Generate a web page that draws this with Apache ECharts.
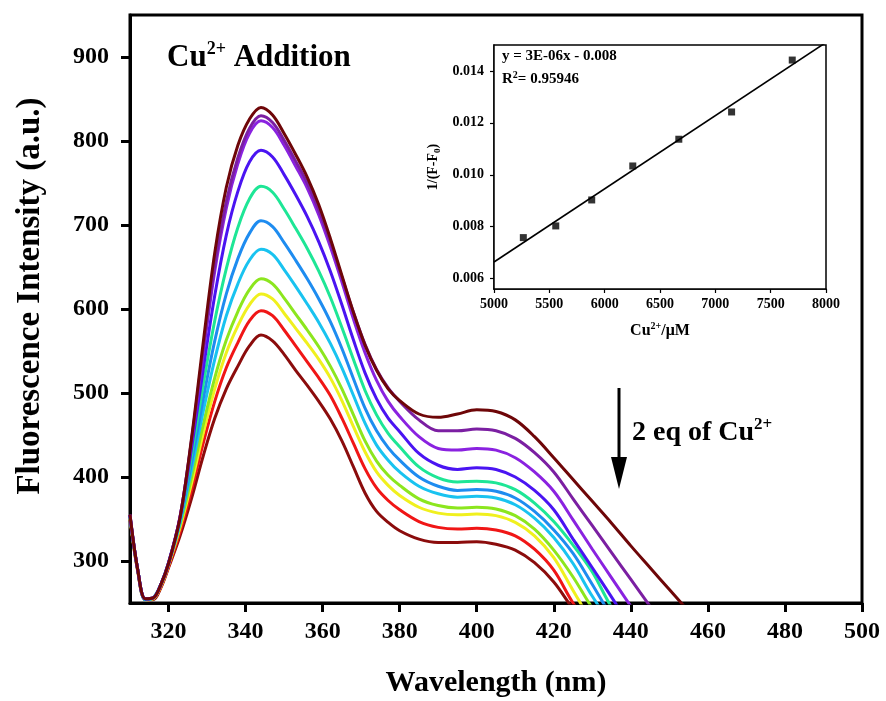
<!DOCTYPE html>
<html>
<head>
<meta charset="utf-8">
<style>
  html, body { margin: 0; padding: 0; background: #fff; }
  #chart { width: 886px; height: 701px; }
</style>
<script src="https://cdn.jsdelivr.net/npm/echarts@6/dist/echarts.min.js"></script>
</head>
<body>
<div id="chart"></div>
<script>
// Emission spectra recorded during Cu2+ titration (wavelength in nm)
const wavelengths = [310,312,314,316,318,320,323,326,329,332,335,338,341,344,347,350,353,356,359,362,365,368,371,374,377,380,385,390,395,400,405,410,415,420,425,430,435,440,445,450,455];

// Fluorescence intensity (a.u.), from the free probe down to 2 eq of Cu2+
const spectrum00 = [355,290,255,256,272,297,352,447,560,667,745,795,826,840,831,809,784,757,724,684,640,596,557,527,505,491,475,471,475,480,478,468,448,423,397,371,345,318,292,266,240];
const spectrum01 = [355,290,255,256,272,297,353,445,552,652,728,780,815,830,822,801,776,750,718,680,638,596,558,528,506,490,468,455,455,457,455,446,429,406,374,342,310,278,246,214,182];
const spectrum02 = [355,290,255,256,272,297,353,443,547,645,720,773,809,824,816,795,770,744,712,674,632,588,548,515,490,472,448,434,432,434,432,423,406,383,349,314,280,246,211,177,150];
const spectrum03 = [354,290,255,256,272,298,352,435,528,616,688,740,775,789,781,760,736,710,680,645,605,563,524,493,470,454,428,414,409,411,409,400,384,361,326,292,257,222,195,175,160];
const spectrum04 = [354,290,255,256,272,298,350,427,510,586,648,697,731,746,739,719,696,672,645,614,578,540,503,474,452,436,412,399,394,395,393,385,369,347,319,287,245,215,190,175,160];
const spectrum05 = [353,290,254,256,272,297,348,418,493,562,618,660,690,705,698,679,658,636,612,585,553,517,482,455,435,420,400,389,384,385,383,375,359,337,309,272,235,210,190,175,160];
const spectrum06 = [353,290,254,256,272,297,346,410,478,540,592,630,658,671,665,647,627,606,584,559,530,497,464,438,420,406,389,380,376,377,375,367,351,328,297,258,225,200,180,170,160];
const spectrum07 = [352,289,254,256,271,296,343,400,462,518,563,597,623,636,630,613,594,575,555,532,505,474,443,419,402,390,374,366,363,364,362,354,338,313,281,244,215,195,180,170,160];
const spectrum08 = [352,289,254,255,270,295,340,393,452,505,548,580,605,618,612,595,577,559,540,518,491,460,430,406,390,378,364,357,355,356,354,346,330,304,265,228,205,190,175,165,155];
const spectrum09 = [352,289,254,255,269,293,335,385,440,490,530,560,586,598,592,575,556,537,518,497,470,440,410,387,372,361,347,340,338,339,337,330,314,289,250,220,200,185,170,160,150];
const spectrum10 = [350,288,254,254,268,292,330,375,425,470,505,532,556,569,562,546,527,509,490,469,443,412,381,359,346,336,326,322,322,323,320,313,298,275,243,215,195,180,170,160,150];

const spectra = [spectrum00, spectrum01, spectrum02, spectrum03, spectrum04, spectrum05,
                 spectrum06, spectrum07, spectrum08, spectrum09, spectrum10];
const spectraColors = ['#6e0608', '#7b1fa2', '#8a22e0', '#4a14f2', '#1ee696', '#1e8cf0',
                       '#19c3f0', '#8ce61e', '#f0f01e', '#f01616', '#8b0c0c'];

const wavelengthTicks = [320, 340, 360, 380, 400, 420, 440, 460, 480, 500];
const intensityTicks = [300, 400, 500, 600, 700, 800, 900];

// Inset: 1/(F-F0) against Cu2+ concentration
const cuConcentration = [5265, 5558, 5883, 6254, 6670, 7147, 7695];
const inverseDeltaF = [0.00758, 0.00803, 0.00903, 0.01034, 0.01137, 0.01242, 0.01442];
const insetXTicks = [5000, 5500, 6000, 6500, 7000, 7500, 8000];
const insetYTicks = [0.006, 0.008, 0.010, 0.012, 0.014];

// Least-squares line through the inset points
function linearFit(xs, ys) {
  const n = xs.length;
  const mx = xs.reduce((a, b) => a + b, 0) / n;
  const my = ys.reduce((a, b) => a + b, 0) / n;
  let sxy = 0, sxx = 0;
  for (let i = 0; i < n; i++) {
    sxy += (xs[i] - mx) * (ys[i] - my);
    sxx += (xs[i] - mx) * (xs[i] - mx);
  }
  const slope = sxy / sxx;
  return { slope, intercept: my - slope * mx };
}
const fit = linearFit(cuConcentration, inverseDeltaF);
const fitLine = [5000, 8000].map(x => [x, fit.slope * x + fit.intercept]);

const FONT = '"Liberation Serif", "Times New Roman", serif';

const chart = echarts.init(document.getElementById('chart'), null, { renderer: 'canvas' });

const spectraSeries = spectra.map((vals, i) => ({
  type: 'line',
  xAxisIndex: 0,
  yAxisIndex: 0,
  data: wavelengths.map((w, j) => [w, vals[j]]),
  smooth: 0.35,
  showSymbol: false,
  clip: true,
  lineStyle: { color: spectraColors[i], width: 3 },
  itemStyle: { color: spectraColors[i] },
  z: 3 + (spectra.length - i)
}));

chart.setOption({
  backgroundColor: '#ffffff',
  animation: false,
  grid: [
    { left: 130, top: 15, width: 732, height: 588, show: true, borderColor: '#000', borderWidth: 3,
      backgroundColor: '#fff', containLabel: false, outerBoundsMode: 'none' },
    { left: 494, top: 45, width: 332, height: 244, show: true, borderColor: '#000', borderWidth: 1.5,
      backgroundColor: '#fff', z: 10, containLabel: false, outerBoundsMode: 'none' }
  ],
  xAxis: [
    {
      type: 'value', gridIndex: 0, min: 310, max: 500,
      name: 'Wavelength (nm)', nameLocation: 'middle', nameGap: 65,
      nameTextStyle: { fontFamily: FONT, fontWeight: 'bold', fontSize: 30, color: '#000' },
      axisLine: { show: true, onZero: false, lineStyle: { color: '#000', width: 3 } },
      axisTick: { show: true, inside: false, length: 9, lineStyle: { color: '#000', width: 3 }, customValues: wavelengthTicks },
      axisLabel: { show: true, margin: 17, fontFamily: FONT, fontWeight: 'bold', fontSize: 24, color: '#000', customValues: wavelengthTicks },
      splitLine: { show: false }
    },
    {
      type: 'value', gridIndex: 1, min: 5000, max: 8000,
      name: '{a|Cu}{s|2+}{a|/μM}', nameLocation: 'middle', nameGap: 32,
      nameTextStyle: {
        fontFamily: FONT, fontWeight: 'bold', fontSize: 16, color: '#000',
        rich: {
          a: { fontFamily: FONT, fontWeight: 'bold', fontSize: 16, color: '#000', lineHeight: 19 },
          s: { fontFamily: FONT, fontWeight: 'bold', fontSize: 10, color: '#000', verticalAlign: 'top', lineHeight: 11 }
        }
      },
      axisLine: { show: true, onZero: false, lineStyle: { color: '#000', width: 1.5 } },
      axisTick: { show: true, inside: false, length: 4, lineStyle: { color: '#000', width: 1.2 }, customValues: insetXTicks },
      axisLabel: {
        show: true, margin: 8, fontFamily: FONT, fontWeight: 'bold', fontSize: 14, color: '#000',
        customValues: insetXTicks, formatter: v => String(Math.round(v))
      },
      splitLine: { show: false }
    }
  ],
  yAxis: [
    {
      type: 'value', gridIndex: 0, min: 250, max: 950,
      name: 'Fluorescence Intensity (a.u.)', nameLocation: 'middle', nameGap: 83, nameRotate: 90,
      nameTextStyle: { fontFamily: FONT, fontWeight: 'bold', fontSize: 33, color: '#000', padding: [0, 0, 0, 26] },
      axisLine: { show: true, onZero: false, lineStyle: { color: '#000', width: 3 } },
      axisTick: { show: true, inside: false, length: 9, lineStyle: { color: '#000', width: 3 }, customValues: intensityTicks },
      axisLabel: { show: true, margin: 21, fontFamily: FONT, fontWeight: 'bold', fontSize: 24, color: '#000', customValues: intensityTicks },
      splitLine: { show: false }
    },
    {
      type: 'value', gridIndex: 1, min: 0.0056, max: 0.015,
      name: '{a|1/(F-F}{b|0}{a|)}', nameLocation: 'middle', nameGap: 52, nameRotate: 90,
      nameTextStyle: {
        fontFamily: FONT, fontWeight: 'bold', fontSize: 14, color: '#000',
        rich: {
          a: { fontFamily: FONT, fontWeight: 'bold', fontSize: 14, color: '#000', lineHeight: 17 },
          b: { fontFamily: FONT, fontWeight: 'bold', fontSize: 9, color: '#000', verticalAlign: 'bottom', lineHeight: 10 }
        }
      },
      axisLine: { show: true, onZero: false, lineStyle: { color: '#000', width: 1.5 } },
      axisTick: { show: true, inside: false, length: 4, lineStyle: { color: '#000', width: 1.2 }, customValues: insetYTicks },
      axisLabel: {
        show: true, margin: 10, fontFamily: FONT, fontWeight: 'bold', fontSize: 14, color: '#000',
        customValues: insetYTicks, formatter: v => v.toFixed(3)
      },
      splitLine: { show: false }
    }
  ],
  series: [
    ...spectraSeries,
    {
      type: 'line', xAxisIndex: 1, yAxisIndex: 1, data: fitLine,
      showSymbol: false, clip: true, z: 12,
      lineStyle: { color: '#000', width: 1.6 }
    },
    {
      type: 'scatter', xAxisIndex: 1, yAxisIndex: 1, z: 13,
      data: cuConcentration.map((x, i) => [x, inverseDeltaF[i]]),
      symbol: 'rect', symbolSize: 7,
      itemStyle: { color: '#000' }
    }
  ],
  graphic: [
    {
      type: 'text', left: 167, top: 40, z: 20,
      style: {
        text: '{a|Cu}{s|2+}{a| Addition}',
        rich: {
          a: { fontFamily: FONT, fontWeight: 'bold', fontSize: 31, fill: '#000', lineHeight: 36 },
          s: { fontFamily: FONT, fontWeight: 'bold', fontSize: 18, fill: '#000', verticalAlign: 'top', lineHeight: 20 }
        }
      }
    },
    {
      type: 'text', left: 632, top: 416, z: 20,
      style: {
        text: '{a|2 eq of Cu}{s|2+}',
        rich: {
          a: { fontFamily: FONT, fontWeight: 'bold', fontSize: 28, fill: '#000', lineHeight: 33 },
          s: { fontFamily: FONT, fontWeight: 'bold', fontSize: 17, fill: '#000', verticalAlign: 'top', lineHeight: 18 }
        }
      }
    },
    {
      type: 'line', z: 20,
      shape: { x1: 619, y1: 388, x2: 619, y2: 465 },
      style: { stroke: '#000', lineWidth: 3 }
    },
    {
      type: 'polygon', z: 20,
      shape: { points: [[611, 457], [627, 457], [619, 489]] },
      style: { fill: '#000' }
    },
    {
      type: 'text', left: 502, top: 49, z: 20,
      style: { text: 'y = 3E-06x - 0.008', fontFamily: FONT, fontWeight: 'bold', fontSize: 15, fill: '#000' }
    },
    {
      type: 'text', left: 502, top: 70, z: 20,
      style: {
        text: '{a|R}{s|2}{a|= 0.95946}',
        rich: {
          a: { fontFamily: FONT, fontWeight: 'bold', fontSize: 15, fill: '#000', lineHeight: 18 },
          s: { fontFamily: FONT, fontWeight: 'bold', fontSize: 10, fill: '#000', verticalAlign: 'top', lineHeight: 11 }
        }
      }
    }
  ]
});
</script>
</body>
</html>
